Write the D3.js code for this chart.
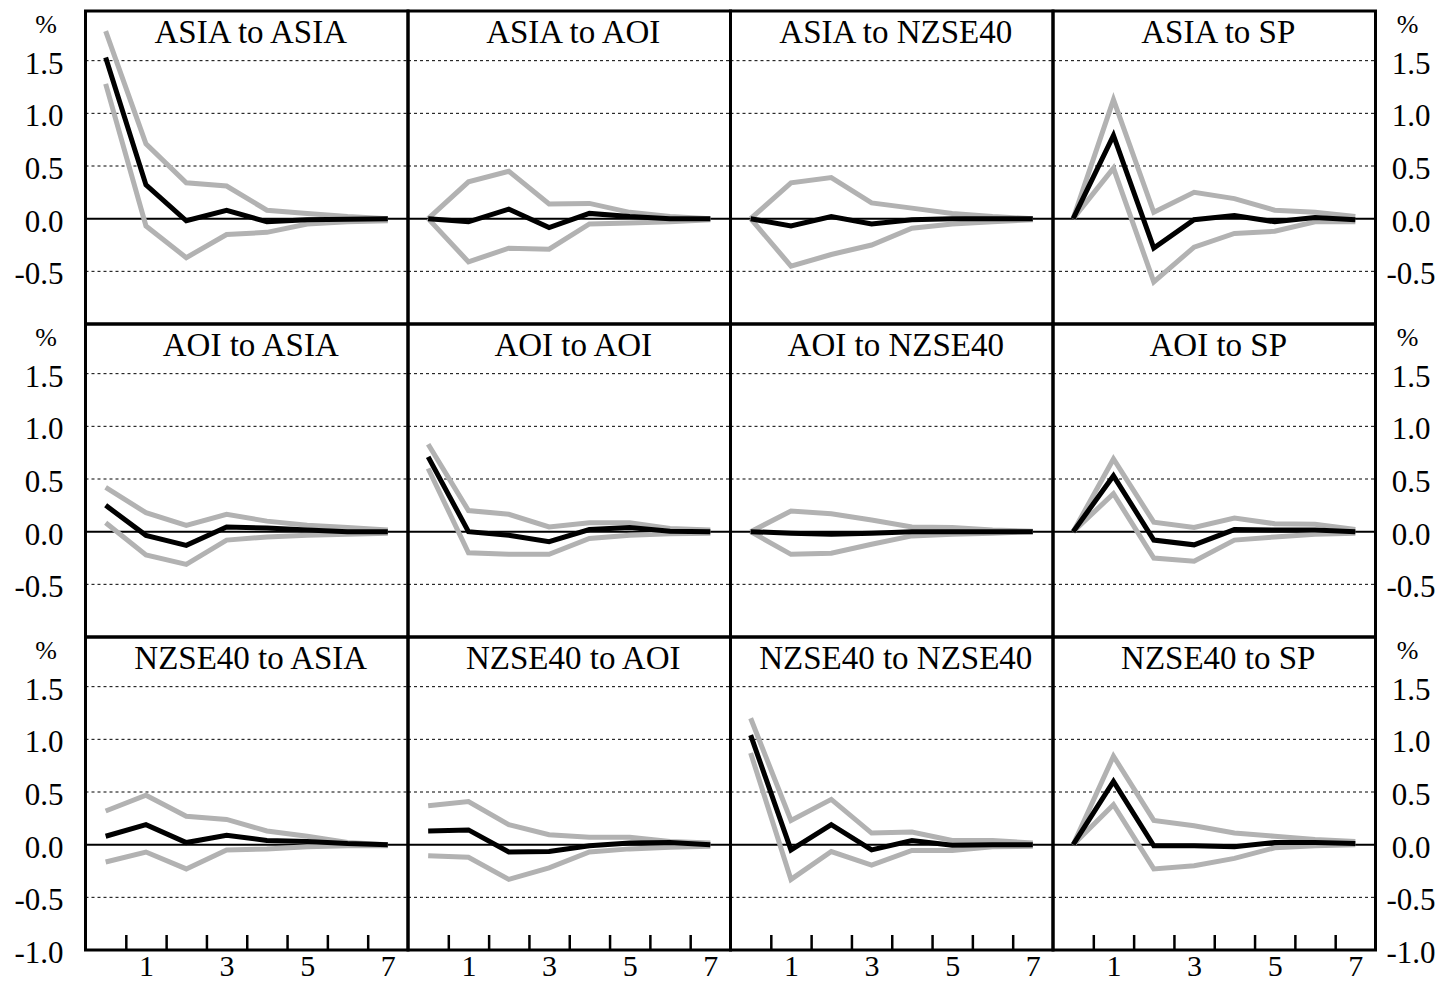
<!DOCTYPE html>
<html>
<head>
<meta charset="utf-8">
<script src="https://cdn.jsdelivr.net/npm/d3@7"></script>
<style>
  html, body { margin: 0; padding: 0; background: #fff; }
  text { font-family: "Liberation Serif", "Times New Roman", serif; fill: #000; }
</style>
</head>
<body>
<svg id="chart" width="1448" height="984"></svg>
<script>
// ---- data ----
const steps = [0, 1, 2, 3, 4, 5, 6, 7];
const xTickLabels = [1, 3, 5, 7];
const yTicksUpper = [-0.5, 0.0, 0.5, 1.0, 1.5];
const yTicksBottom = [-1.0, -0.5, 0.0, 0.5, 1.0, 1.5];
const gridValues = [-0.5, 0.5, 1.0, 1.5];
const shocks = ["ASIA", "AOI", "NZSE40"];
const targets = ["ASIA", "AOI", "NZSE40", "SP"];

// shock ASIA -> [ASIA, AOI, NZSE40, SP]
const irfASIA = [
  [1.53, 0.32, -0.02, 0.08, -0.03, -0.01, -0.005, 0.0],
  [0.0, -0.03, 0.09, -0.085, 0.05, 0.02, 0.0, 0.0],
  [0.0, -0.07, 0.02, -0.05, -0.01, 0.0, 0.0, 0.0],
  [0.0, 0.79, -0.28, -0.01, 0.03, -0.03, 0.01, -0.01]
];
const upperASIA = [
  [1.78, 0.71, 0.34, 0.31, 0.08, 0.05, 0.02, 0.0],
  [0.0, 0.35, 0.45, 0.14, 0.145, 0.06, 0.02, 0.0],
  [0.0, 0.34, 0.39, 0.15, 0.10, 0.05, 0.02, 0.0],
  [0.0, 1.13, 0.06, 0.25, 0.19, 0.08, 0.06, 0.02]
];
const lowerASIA = [
  [1.28, -0.07, -0.37, -0.15, -0.13, -0.05, -0.03, -0.02],
  [0.0, -0.41, -0.28, -0.29, -0.05, -0.04, -0.03, -0.01],
  [0.0, -0.45, -0.34, -0.25, -0.09, -0.05, -0.03, -0.01],
  [0.0, 0.48, -0.60, -0.27, -0.14, -0.12, -0.03, -0.03]
];

// shock AOI -> [ASIA, AOI, NZSE40, SP]
const irfAOI = [
  [0.25, -0.035, -0.13, 0.045, 0.035, 0.015, 0.0, 0.0],
  [0.71, 0.0, -0.035, -0.095, 0.02, 0.04, 0.005, 0.0],
  [0.0, -0.015, -0.025, -0.015, 0.0, 0.0, 0.0, 0.0],
  [0.0, 0.53, -0.08, -0.125, 0.02, 0.015, 0.015, 0.0]
];
const upperAOI = [
  [0.42, 0.18, 0.06, 0.165, 0.10, 0.06, 0.04, 0.015],
  [0.83, 0.20, 0.165, 0.045, 0.085, 0.085, 0.03, 0.015],
  [0.0, 0.195, 0.17, 0.11, 0.045, 0.04, 0.015, 0.005],
  [0.0, 0.69, 0.09, 0.04, 0.13, 0.075, 0.07, 0.02]
];
const lowerAOI = [
  [0.085, -0.22, -0.31, -0.08, -0.05, -0.035, -0.025, -0.015],
  [0.60, -0.20, -0.215, -0.215, -0.065, -0.035, -0.02, -0.015],
  [0.0, -0.215, -0.205, -0.12, -0.04, -0.025, -0.015, 0.0],
  [0.0, 0.36, -0.25, -0.28, -0.08, -0.05, -0.025, -0.015]
];

// shock NZSE40 -> [ASIA, AOI, NZSE40, SP]
const irfNZSE40 = [
  [0.08, 0.19, 0.02, 0.09, 0.04, 0.03, 0.01, 0.0],
  [0.13, 0.14, -0.07, -0.065, -0.01, 0.015, 0.02, 0.0],
  [1.04, -0.05, 0.19, -0.05, 0.04, -0.005, 0.0, 0.0],
  [0.0, 0.60, -0.01, -0.01, -0.02, 0.02, 0.02, 0.01]
];
const upperNZSE40 = [
  [0.32, 0.47, 0.27, 0.24, 0.13, 0.08, 0.02, 0.0],
  [0.37, 0.41, 0.19, 0.095, 0.07, 0.07, 0.03, 0.015],
  [1.20, 0.23, 0.43, 0.11, 0.12, 0.04, 0.04, 0.015],
  [0.0, 0.84, 0.23, 0.18, 0.11, 0.08, 0.05, 0.03]
];
const lowerNZSE40 = [
  [-0.165, -0.07, -0.23, -0.05, -0.04, -0.02, -0.01, -0.01],
  [-0.105, -0.12, -0.33, -0.22, -0.07, -0.04, -0.025, -0.015],
  [0.87, -0.33, -0.065, -0.195, -0.055, -0.055, -0.02, -0.015],
  [0.0, 0.38, -0.23, -0.20, -0.13, -0.03, -0.01, 0.0]
];

const irfRows = [irfASIA, irfAOI, irfNZSE40];
const upperRows = [upperASIA, upperAOI, upperNZSE40];
const lowerRows = [lowerASIA, lowerAOI, lowerNZSE40];

// ---- layout ----
const svg = d3.select("#chart");
const left = 85.5, top0 = 11, panelW = 322.5, panelH = 313;
const fmt = d => d.toFixed(1);
const grey = "#b2b2b2";
const serif = '"Liberation Serif", "Times New Roman", serif';

shocks.forEach((shock, r) => {
  const y0 = top0 + r * panelH;
  const y = d3.scaleLinear().domain([-1, 2]).range([y0 + panelH, y0 - 3]);

  targets.forEach((target, c) => {
    const x0 = left + c * panelW;
    const x = d3.scalePoint().domain(steps).range([x0, x0 + panelW]).padding(0.5);
    const g = svg.append("g");

    // gridlines
    g.selectAll("line.grid").data(gridValues).join("line")
      .attr("x1", x0).attr("x2", x0 + panelW)
      .attr("y1", d => y(d)).attr("y2", d => y(d))
      .attr("stroke", "#000").attr("stroke-width", 1)
      .attr("stroke-dasharray", "3,3");

    // zero line
    g.append("line")
      .attr("x1", x0).attr("x2", x0 + panelW)
      .attr("y1", y(0)).attr("y2", y(0))
      .attr("stroke", "#000").attr("stroke-width", 2);

    const line = d3.line().x((d, i) => x(steps[i])).y(d => y(d));
    [upperRows[r][c], lowerRows[r][c]].forEach(arr => {
      g.append("path").attr("d", line(arr))
        .attr("fill", "none").attr("stroke", grey).attr("stroke-width", 5);
    });
    g.append("path").attr("d", line(irfRows[r][c]))
      .attr("fill", "none").attr("stroke", "#000").attr("stroke-width", 5);

    // border
    g.append("rect")
      .attr("x", x0).attr("y", y0).attr("width", panelW).attr("height", panelH)
      .attr("fill", "none").attr("stroke", "#000").attr("stroke-width", 3);

    // title
    g.append("text")
      .attr("x", x0 + panelW / 2 + 4).attr("y", y0 + 32)
      .attr("text-anchor", "middle").style("font-size", "33px")
      .text(shock + " to " + target);

    // bottom axis for the last row
    if (r === shocks.length - 1) {
      const xb = d3.scaleLinear().domain([0, 8]).range([x0, x0 + panelW]);
      const tickAxis = d3.axisBottom(xb).tickValues(d3.range(1, 8))
        .tickSize(-15).tickFormat("");
      const ta = g.append("g").attr("transform", `translate(0,${y0 + panelH})`).call(tickAxis);
      ta.select(".domain").remove();
      ta.selectAll(".tick line").attr("stroke", "#000").attr("stroke-width", 2.5);

      const labAxis = d3.axisBottom(x).tickValues(xTickLabels).tickSize(0)
        .tickFormat(d => String(d));
      const la = g.append("g").attr("transform", `translate(0,${y0 + panelH})`).call(labAxis);
      la.select(".domain").remove();
      la.selectAll("text").style("font-size", "30px").style("font-family", serif)
        .attr("fill", "#000").attr("dy", null).attr("y", 26);
    }
  });

  const ticks = r === shocks.length - 1 ? yTicksBottom : yTicksUpper;

  // left axis labels
  const la = svg.append("g").attr("transform", `translate(${left},0)`)
    .call(d3.axisLeft(y).tickValues(ticks).tickSize(0).tickPadding(22).tickFormat(fmt));
  la.select(".domain").remove();
  la.selectAll("text").style("font-size", "31px").style("font-family", serif)
    .attr("fill", "#000").attr("dy", "0.4em");

  // right axis labels
  const rightX = left + targets.length * panelW;
  const ra = svg.append("g").attr("transform", `translate(${rightX},0)`)
    .call(d3.axisRight(y).tickValues(ticks).tickSize(0).tickFormat(fmt));
  ra.select(".domain").remove();
  ra.selectAll("text").style("font-size", "31px").style("font-family", serif)
    .attr("fill", "#000").attr("text-anchor", "middle").attr("x", 35.5).attr("dy", "0.4em");

  // percent signs
  svg.append("text").attr("x", 46).attr("y", y0 + 22)
    .attr("text-anchor", "middle").style("font-size", "26px").text("%");
  svg.append("text").attr("x", rightX + 32).attr("y", y0 + 22)
    .attr("text-anchor", "middle").style("font-size", "26px").text("%");
});
</script>
</body>
</html>
